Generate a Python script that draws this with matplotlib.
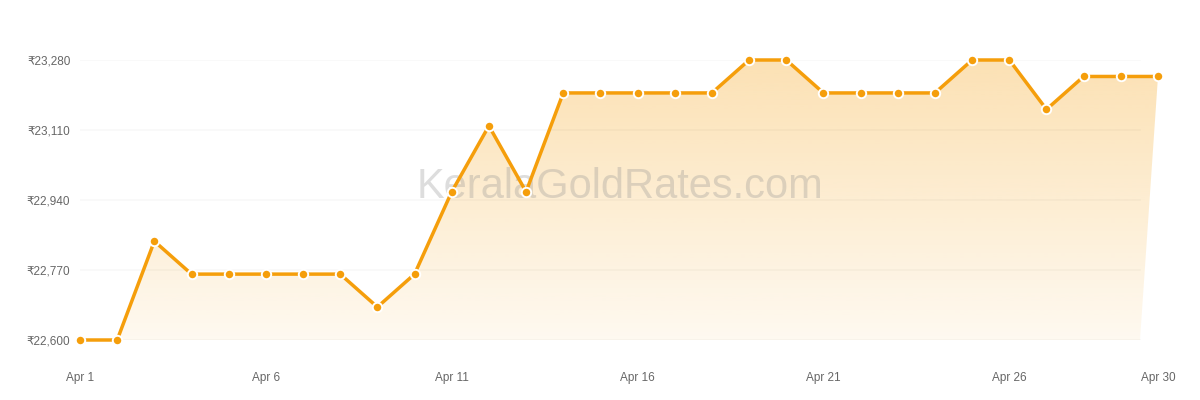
import matplotlib
matplotlib.use("Agg")
import matplotlib.pyplot as plt
import numpy as np
from matplotlib.patches import Polygon

days = list(range(1, 31))
prices = [22600, 22600, 22840, 22760, 22760, 22760, 22760, 22760, 22680, 22760,
          22960, 23120, 22960, 23200, 23200, 23200, 23200, 23200, 23280, 23280,
          23200, 23200, 23200, 23200, 23280, 23280, 23160, 23240, 23240, 23240]
tick_days = [1, 6, 11, 16, 21, 26, 30]
tick_labels = ["Apr 1", "Apr 6", "Apr 11", "Apr 16", "Apr 21", "Apr 26", "Apr 30"]
y_ticks = [22600, 22770, 22940, 23110, 23280]

plt.rcParams['font.family'] = ['Liberation Sans', 'DejaVu Sans']

W, H = 1200, 400
fig = plt.figure(figsize=(12, 4), dpi=100)
# axes: Apr1 at x=80, Apr30 at x=1158; 22600 at y=340, 23280 at y=60
ax = fig.add_axes([80 / W, (H - 340) / H, (1158 - 80) / W, (340 - 60) / H])
ax.set_xlim(1, 30)
ax.set_ylim(22600, 23280)
for s in ax.spines.values():
    s.set_visible(False)

orange = '#f59e0b'
grid_end = (1140 - 80) / (1158 - 80)
for yv in y_ticks:
    ax.axhline(yv, xmin=0, xmax=grid_end, color=(0, 0, 0, 0.028), lw=1.2, zorder=2)

# gradient fill
x_end_fill = 1 + 29 * grid_end
verts = list(zip(days, prices)) + [(x_end_fill, 22600), (1, 22600)]
poly = Polygon(verts, closed=True, facecolor='none', edgecolor='none')
ax.add_patch(poly)
alphas = np.linspace(0.06, 0.31, 256)
rgba = np.zeros((256, 1, 4))
rgba[..., 0] = 245 / 255
rgba[..., 1] = 158 / 255
rgba[..., 2] = 11 / 255
rgba[..., 3] = alphas[:, None]
im = ax.imshow(rgba, extent=[1, 30, 22600, 23280], origin='lower', aspect='auto',
               zorder=1, interpolation='bilinear')
im.set_clip_path(poly)

# watermark
ax.text((620 - 80) / 1078, (340 - 187) / 280, "KeralaGoldRates.com", transform=ax.transAxes,
        ha='center', va='center', fontsize=30, color='#909090', alpha=0.3, zorder=2.5)

ax.plot(days, prices, color=orange, lw=2.5, zorder=3, clip_on=False,
        marker='o', markersize=6.8, markerfacecolor=orange, markeredgecolor='white',
        markeredgewidth=1.4)

ax.set_xticks(tick_days)
ax.set_xticklabels(tick_labels)
ax.set_yticks(y_ticks)
ax.set_yticklabels([f"₹{v:,}" for v in y_ticks])
ax.tick_params(axis='both', length=0, colors='#666666', labelsize=8.5)
ax.tick_params(axis='x', pad=23)
ax.tick_params(axis='y', pad=7)

fig.savefig("out.png", dpi=100)
